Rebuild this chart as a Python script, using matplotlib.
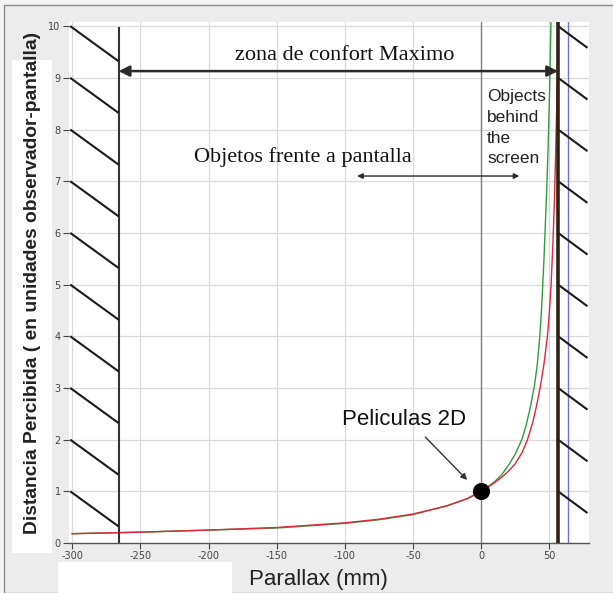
import matplotlib
matplotlib.use("Agg")
import matplotlib.pyplot as plt
from matplotlib.patches import Rectangle

# Perceived distance (in viewer-screen units) versus on-screen parallax (mm)
parallax_green = [-300, -250, -200, -150, -100, -75, -50, -25, -10, 0, 5, 10, 15, 20,
                  25, 29.8, 33, 36, 39.1, 41, 42.7, 44, 44.9, 46, 46.9, 48.1, 49.2,
                  50, 50.7, 51.3]
distance_green = [0.18, 0.21, 0.25, 0.29, 0.38, 0.45, 0.55, 0.72, 0.86, 1.0, 1.09,
                  1.19, 1.32, 1.5, 1.72, 2.0, 2.28, 2.62, 3.05, 3.42, 3.9, 4.4, 4.85,
                  5.45, 6.05, 6.85, 7.75, 8.55, 9.4, 10.2]

parallax_red = [-300, -250, -200, -150, -100, -75, -50, -25, -10, 0, 5, 10, 15, 20,
                24.9, 30, 34, 38, 41, 43.2, 46, 48.6, 50, 51.3, 52.7, 53.7, 54.5,
                55.3, 56, 56.5]
distance_red = [0.18, 0.21, 0.25, 0.30, 0.39, 0.46, 0.56, 0.72, 0.86, 1.0, 1.08,
                1.17, 1.27, 1.39, 1.53, 1.75, 2.0, 2.35, 2.7, 3.0, 3.45, 4.0, 4.45,
                5.0, 5.85, 6.6, 7.4, 8.3, 9.2, 10.2]

x_ticks = [-300, -250, -200, -150, -100, -50, 0, 50]
y_ticks = list(range(0, 11))
hatch_levels = list(range(1, 11))

comfort_left = -266      # near limit of the comfort zone
comfort_right = 56.4     # far limit (screen parallax limit)
eye_separation = 63.7    # interocular distance
front_span = (-91, 28)   # span of objects in front of the screen
screen_point = (0, 1)    # 2D films: zero parallax, on the screen

fig = plt.figure(figsize=(6.13, 5.93), dpi=100, facecolor="#f4f4f4")

# panel background with border
fig.patches.append(Rectangle((4 / 613, 0), 1, 1 - 5 / 593, transform=fig.transFigure,
                             facecolor="#ececec", edgecolor="#8c8c8c", lw=1.0,
                             zorder=0))
# white label boxes
fig.patches.append(Rectangle((12 / 613, 1 - 553 / 593), 40 / 613, 493 / 593,
                             transform=fig.transFigure, facecolor="white",
                             edgecolor="none", zorder=1))
fig.patches.append(Rectangle((58 / 613, 0), 174 / 613, 31 / 593,
                             transform=fig.transFigure, facecolor="white",
                             edgecolor="none", zorder=1))

ax = fig.add_axes([69 / 613, 1 - 543 / 593, 520 / 613, 521 / 593])
ax.set_zorder(2)
ax.set_facecolor("white")
ax.set_xlim(-302.4, 79.1)
ax.set_ylim(0, 10.08)

ax.set_xticks(x_ticks)
ax.set_yticks(y_ticks)
ax.set_xticklabels([str(t) for t in x_ticks])
ax.set_yticklabels([str(t) for t in y_ticks])
ax.tick_params(axis="both", labelsize=7, colors="#444444", length=4, width=0.8,
               pad=2)
ax.grid(True, color="#dadada", lw=0.9)
ax.set_axisbelow(True)
for side in ("left", "top", "right"):
    ax.spines[side].set_visible(False)
ax.spines["bottom"].set_color("#555555")
ax.spines["bottom"].set_linewidth(1.0)

# screen plane
ax.axvline(0, color="#808080", lw=1.0, zorder=1)

# curves
ax.plot(parallax_green, distance_green, color="#2f9e3a", lw=1.0, zorder=3)
ax.plot(parallax_red, distance_red, color="#e0253d", lw=1.0, zorder=3)

# limits of the comfort zone
ax.plot([comfort_left, comfort_left], [0, 9.96], color="#333333", lw=1.5, zorder=4)
ax.axvline(eye_separation, color="#6f6fd6", lw=1.0, zorder=4)
ax.axvline(comfort_right, color="#2e2212", lw=2.6, zorder=5)

# hatching outside the comfort zone
for k in hatch_levels:
    ax.plot([-301.5, comfort_left], [k, k - 0.68], color="#1a1a1a", lw=1.5,
            zorder=4, clip_on=False, solid_capstyle="butt")
    ax.plot([comfort_right, 78.0], [k, k - 0.42], color="#1a1a1a", lw=1.5,
            zorder=4, solid_capstyle="butt")

# comfort zone arrow
ax.annotate("", xy=(comfort_left, 9.13), xytext=(comfort_right, 9.13),
            arrowprops=dict(arrowstyle="<|-|>", color="#2a2a2a", lw=1.8,
                            mutation_scale=16, shrinkA=0, shrinkB=0), zorder=6)
ax.text(-100.4, 9.44, "zona de confort Maximo", family="Liberation Serif",
        fontsize=16, ha="center", va="center", color="#111111")

# objects in front of the screen
ax.annotate("", xy=(front_span[0], 7.10), xytext=(front_span[1], 7.10),
            arrowprops=dict(arrowstyle="<|-|>", color="#2a2a2a", lw=1.0,
                            mutation_scale=8, shrinkA=0, shrinkB=0), zorder=6)
ax.text(-130.8, 7.47, "Objetos frente a pantalla", family="Liberation Serif",
        fontsize=16, ha="center", va="center", color="#111111")

# objects behind the screen
for line, yy in zip(["Objects", "behind", "the", "screen"], [8.63, 8.24, 7.83, 7.43]):
    ax.text(4.4, yy, line, family="Liberation Sans", fontsize=12.5, ha="left",
            va="center", color="#222222")

# 2D films point
ax.plot([screen_point[0]], [screen_point[1]], "o", color="black", markersize=11.3,
        zorder=7)
ax.annotate("", xy=(-10.3, 1.22), xytext=(-41, 2.05),
            arrowprops=dict(arrowstyle="-|>", color="#333333", lw=1.0,
                            mutation_scale=9, shrinkA=0, shrinkB=0), zorder=6)
ax.text(-56.8, 2.38, "Peliculas 2D", family="Liberation Sans", fontsize=16,
        ha="center", va="center", color="#111111")

# axis titles
fig.text(33 / 613, 1 - 283 / 593, "Distancia Percibida ( en unidades observador-pantalla)",
         rotation=90, family="Liberation Sans", fontweight="bold", fontsize=13.9,
         ha="center", va="center", color="#222222", zorder=3)
fig.text(318 / 613, 1 - 580 / 593, "Parallax (mm)", family="Liberation Sans",
         fontsize=16, ha="center", va="center", color="#222222", zorder=3)

fig.savefig("out.png", dpi=100, facecolor=fig.get_facecolor())
